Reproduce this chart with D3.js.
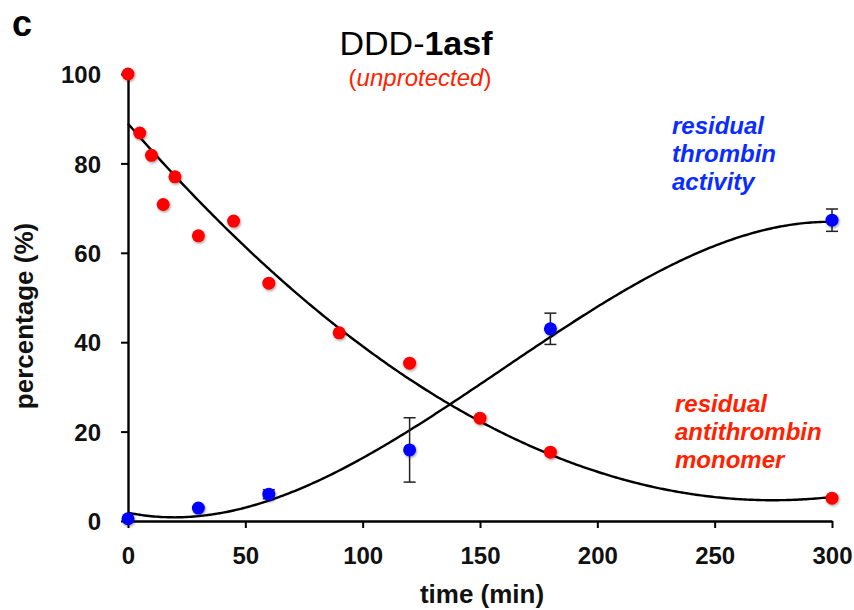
<!DOCTYPE html>
<html>
<head>
<meta charset="utf-8">
<script src="https://cdn.jsdelivr.net/npm/d3@7"></script>
<style>
  body { margin: 0; background: #fff; }
  text { font-family: "Liberation Sans", Arial, sans-serif; }
</style>
</head>
<body>
<div id="chart"></div>
<script>
// residual antithrombin monomer (red points)
const monomerTime = [0, 5, 10, 15, 20, 30, 45, 60, 90, 120, 150, 180, 300];
const monomerValue = [100, 86.8, 81.8, 70.8, 77, 63.8, 67.1, 53.2, 42.1, 35.3, 23.0, 15.4, 5.1];

// residual thrombin activity (blue points), with error bars
const activityTime = [0, 30, 60, 120, 180, 300];
const activityValue = [0.5, 2.9, 6.0, 15.9, 43.0, 67.3];
const activityErr = [0, 0, 1.0, 7.2, 3.5, 2.5];

// trendlines
const monomerTrendTime = [0, 20, 45, 60, 90, 105, 135, 150, 180, 200, 230, 250, 270, 300];
const monomerTrendValue = [88.6, 77.4, 64.4, 56.2, 42.7, 37.5, 26.2, 22.6, 15.1, 10.7, 6.9, 5.5, 4.9, 5.2];
const activityTrendTime = [0, 20, 60, 100, 120, 140, 180, 205, 225, 250, 270, 300];
const activityTrendValue = [1.9, 0.6, 5.1, 14.0, 19.8, 26.6, 41.8, 50.2, 55.5, 61.0, 64.5, 67.3];

const xTicks = [0, 50, 100, 150, 200, 250, 300];
const yTicks = [0, 20, 40, 60, 80, 100];

const W = 854, H = 610;
const margin = { top: 74, right: 22, bottom: 89, left: 128 };

const svg = d3.select('#chart').append('svg')
  .attr('width', W).attr('height', H);

const defs = svg.append('defs');
const f = defs.append('filter').attr('id', 'shadow')
  .attr('x', '-50%').attr('y', '-50%').attr('width', '200%').attr('height', '200%');
f.append('feDropShadow').attr('dx', 1).attr('dy', 1.5).attr('stdDeviation', 1.2)
  .attr('flood-color', '#000').attr('flood-opacity', 0.35);

const x = d3.scaleLinear().domain([0, 300]).range([margin.left, W - margin.right]);
const y = d3.scaleLinear().domain([0, 100]).range([H - margin.bottom, margin.top]);

// least squares cubic through the read trendline samples (smooth like the original trendline)
function cubicFit(xs, ys) {
  const n = 4;
  const A = [], b = [];
  for (let i = 0; i < n; i++) {
    A.push(new Array(n).fill(0));
    b.push(0);
  }
  xs.forEach((xv, k) => {
    const u = xv / 100;
    for (let i = 0; i < n; i++) {
      for (let j = 0; j < n; j++) A[i][j] += Math.pow(u, i + j);
      b[i] += ys[k] * Math.pow(u, i);
    }
  });
  for (let i = 0; i < n; i++) {
    let p = i;
    for (let r = i + 1; r < n; r++) if (Math.abs(A[r][i]) > Math.abs(A[p][i])) p = r;
    [A[i], A[p]] = [A[p], A[i]];
    [b[i], b[p]] = [b[p], b[i]];
    for (let r = i + 1; r < n; r++) {
      const m = A[r][i] / A[i][i];
      for (let c = i; c < n; c++) A[r][c] -= m * A[i][c];
      b[r] -= m * b[i];
    }
  }
  const c = new Array(n).fill(0);
  for (let i = n - 1; i >= 0; i--) {
    let s = b[i];
    for (let j = i + 1; j < n; j++) s -= A[i][j] * c[j];
    c[i] = s / A[i][i];
  }
  return (t) => { const u = t / 100; return c[0] + c[1] * u + c[2] * u * u + c[3] * u * u * u; };
}

const redFit = cubicFit(monomerTrendTime, monomerTrendValue);
const blueFit = cubicFit(activityTrendTime, activityTrendValue);
const ts = d3.range(0, 300.5, 1);

const line = d3.line().x(d => x(d[0])).y(d => y(d[1]));

// axes
const xAxis = svg.append('g')
  .attr('transform', `translate(0,${y(0)})`)
  .call(d3.axisBottom(x).tickValues(xTicks).tickSize(7).tickSizeOuter(0).tickPadding(19));
const yAxis = svg.append('g')
  .attr('transform', `translate(${x(0)},0)`)
  .call(d3.axisLeft(y).tickValues(yTicks).tickSize(7).tickSizeOuter(0).tickPadding(20));

[xAxis, yAxis].forEach(g => {
  g.select('.domain').attr('stroke', '#000').attr('stroke-width', 2.4);
  g.selectAll('.tick line').attr('stroke', '#000').attr('stroke-width', 2);
  g.selectAll('.tick text')
    .attr('font-family', '"Liberation Sans", Arial, sans-serif')
    .attr('font-size', 24).attr('font-weight', 'bold').attr('fill', '#111');
});
yAxis.selectAll('.tick text').attr('dy', '0.36em');

// trend curves
svg.append('path').datum(ts.map(t => [t, redFit(t)]))
  .attr('d', line).attr('fill', 'none').attr('stroke', '#000').attr('stroke-width', 2.4);
svg.append('path').datum(ts.map(t => [t, Math.max(blueFit(t), 0.1)]))
  .attr('d', line).attr('fill', 'none').attr('stroke', '#000').attr('stroke-width', 2.4);

// error bars
const eb = svg.append('g');
activityTime.forEach((t, i) => {
  const e = activityErr[i];
  if (!e) return;
  const cx = x(t), y1 = y(activityValue[i] + e), y2 = y(activityValue[i] - e);
  eb.append('line').attr('x1', cx).attr('x2', cx).attr('y1', y1).attr('y2', y2)
    .attr('stroke', '#222').attr('stroke-width', 1.5);
  [y1, y2].forEach(yy => eb.append('line')
    .attr('x1', cx - 6).attr('x2', cx + 6).attr('y1', yy).attr('y2', yy)
    .attr('stroke', '#222').attr('stroke-width', 1.5));
});

// points
svg.append('g').selectAll('circle')
  .data(monomerTime.map((t, i) => [t, monomerValue[i]]))
  .join('circle')
  .attr('cx', d => x(d[0])).attr('cy', d => y(d[1])).attr('r', 6.5)
  .attr('fill', '#ff0000').attr('filter', 'url(#shadow)');
svg.append('g').selectAll('circle')
  .data(activityTime.map((t, i) => [t, activityValue[i]]))
  .join('circle')
  .attr('cx', d => x(d[0])).attr('cy', d => y(d[1])).attr('r', 6.5)
  .attr('fill', '#0000ff').attr('filter', 'url(#shadow)');

// panel letter and titles
svg.append('text').attr('x', 12).attr('y', 36).attr('font-size', 36)
  .attr('font-weight', 'bold').text('c');

const title = svg.append('text').attr('x', 416).attr('y', 55)
  .attr('text-anchor', 'middle').attr('font-size', 34).attr('fill', '#000');
title.append('tspan').text('DDD-');
title.append('tspan').attr('font-weight', 'bold').text('1asf');

const sub = svg.append('text').attr('x', 420).attr('y', 86)
  .attr('text-anchor', 'middle').attr('font-size', 24).attr('fill', '#ff2200');
sub.append('tspan').text('(');
sub.append('tspan').attr('font-style', 'italic').text('unprotected');
sub.append('tspan').text(')');

svg.append('text')
  .attr('transform', 'translate(33,316) rotate(-90)')
  .attr('text-anchor', 'middle').attr('font-size', 26).attr('font-weight', 'bold')
  .attr('fill', '#111').text('percentage (%)');

svg.append('text').attr('x', 482).attr('y', 603)
  .attr('text-anchor', 'middle').attr('font-size', 26).attr('font-weight', 'bold')
  .attr('fill', '#111').text('time (min)');

// annotations
function note(lines, x0, y0, color) {
  const t = svg.append('text').attr('font-size', 24).attr('font-weight', 'bold')
    .attr('font-style', 'italic').attr('fill', color);
  lines.forEach((s, i) => t.append('tspan').attr('x', x0).attr('y', y0 + i * 27.8).text(s));
}
note(['residual', 'thrombin', 'activity'], 672, 134, '#0a2cff');
note(['residual', 'antithrombin', 'monomer'], 675, 412, '#ff2200');
</script>
</body>
</html>
